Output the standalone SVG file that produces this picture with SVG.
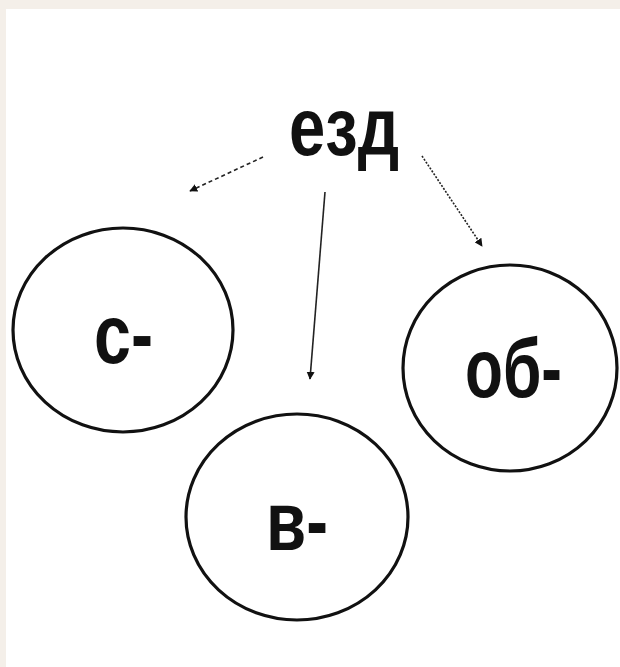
<svg xmlns="http://www.w3.org/2000/svg" width="620" height="667" viewBox="0 0 620 667">
<style>
.node ellipse{fill:none;stroke:#111;stroke-width:3.2}
.lbl{font-family:"Liberation Sans",Arial,sans-serif;font-weight:bold;fill:#111}
.conn line{stroke:#222;stroke-width:1.6;fill:none}
</style>
<defs>
<marker id="ah" viewBox="0 0 10 10" refX="9" refY="5" markerWidth="8" markerHeight="8" markerUnits="userSpaceOnUse" orient="auto">
<path d="M0,0 L10,5 L0,10 z" fill="#111"/>
</marker>
</defs>
<rect x="0" y="0" width="620" height="667" fill="#ffffff"/>
<rect x="0" y="0" width="620" height="9" fill="#f4efe9"/>
<rect x="0" y="0" width="6" height="667" fill="#f4efe9"/>
<g id="word">
<text class="lbl" x="289" y="155" font-size="82" textLength="110" lengthAdjust="spacingAndGlyphs">езд</text>
</g>
<g id="node-s" class="node">
<ellipse cx="123" cy="330" rx="110" ry="102"/>
<text class="lbl" x="94" y="363" font-size="84" textLength="59" lengthAdjust="spacingAndGlyphs">с-</text>
</g>
<g id="node-ob" class="node">
<ellipse cx="510" cy="368" rx="107" ry="103"/>
<text class="lbl" x="465" y="397" font-size="84" textLength="97" lengthAdjust="spacingAndGlyphs">об-</text>
</g>
<g id="node-v" class="node">
<ellipse cx="297" cy="517" rx="111" ry="103"/>
<text class="lbl" x="266" y="550" font-size="84" textLength="62" lengthAdjust="spacingAndGlyphs">в-</text>
</g>
<g class="conn">
<line x1="263" y1="157" x2="190" y2="191" stroke-dasharray="4,3" marker-end="url(#ah)"/>
<line x1="325" y1="192" x2="310" y2="379" marker-end="url(#ah)"/>
<line x1="422" y1="156" x2="482" y2="246" stroke-dasharray="2,1.5" marker-end="url(#ah)"/>
</g>
</svg>
